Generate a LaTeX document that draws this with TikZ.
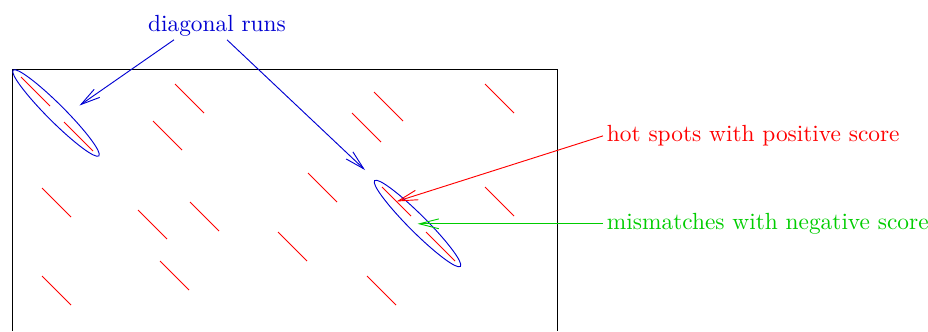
\documentclass[tikz,border=0pt]{standalone}
\usepackage{tikz}
\usetikzlibrary{arrows.meta,calc,shapes.geometric}
\definecolor{RunBlue}{RGB}{0,0,210}
\definecolor{HotRed}{RGB}{255,0,0}
\definecolor{MissGreen}{RGB}{0,205,0}

\begin{document}
\begin{tikzpicture}[
    x=0.428pt,y=-0.428pt,
    lb/.style={inner sep=1.5pt},
    hs/.style={HotRed},
    rn/.style={draw=RunBlue,ellipse,rotate=-45,inner sep=0pt,
               minimum width=51.9pt,minimum height=7.4pt},
    ar/.style={-{Straight Barb[length=8.3pt,width=4.2pt]}}
  ]
  \useasboundingbox (0,0) rectangle (928,331);

  % matrix frame (open at the bottom)
  \draw (12,331) |- (557,69) -- (557,331);

  % hot spots
  \foreach \x/\y in {21/77,64/122,175/84,153/121,374/92,352/113,485/84,
                     42/188,138/210,190/202,308/173,278/232,485/187,
                     160/261,42/276,367/276,382/187,426/232}
    \draw[hs] (\x,\y) -- ++(29,29);

  % diagonal runs
  \node(run1)[rn] at (56,113) {};
  \node(run2)[rn] at (417.5,223.5) {};

  \node(diag)[lb,RunBlue,anchor=base] at (217,31) {diagonal runs};
  \node(hot)[lb,HotRed,anchor=base west] at (603,141.7) {hot spots with positive score};
  \node(miss)[lb,MissGreen,anchor=base west] at (603,229.5) {mismatches with negative score};

  \coordinate(endA) at (79.5,105.5);
  \coordinate(endB) at (365,170);
  \coordinate(spot) at (396.5,201.5);

  \draw[ar,RunBlue] ($(diag.south)+(-43,0)$) -- (endA);
  \draw[ar,RunBlue] ($(diag.south)+(10,0)$) -- (endB);
  \draw[ar,HotRed] (hot.west) -- (spot);
  \draw[ar,MissGreen] (miss.west) -- (miss.west -| run2.center);
\end{tikzpicture}
\end{document}
